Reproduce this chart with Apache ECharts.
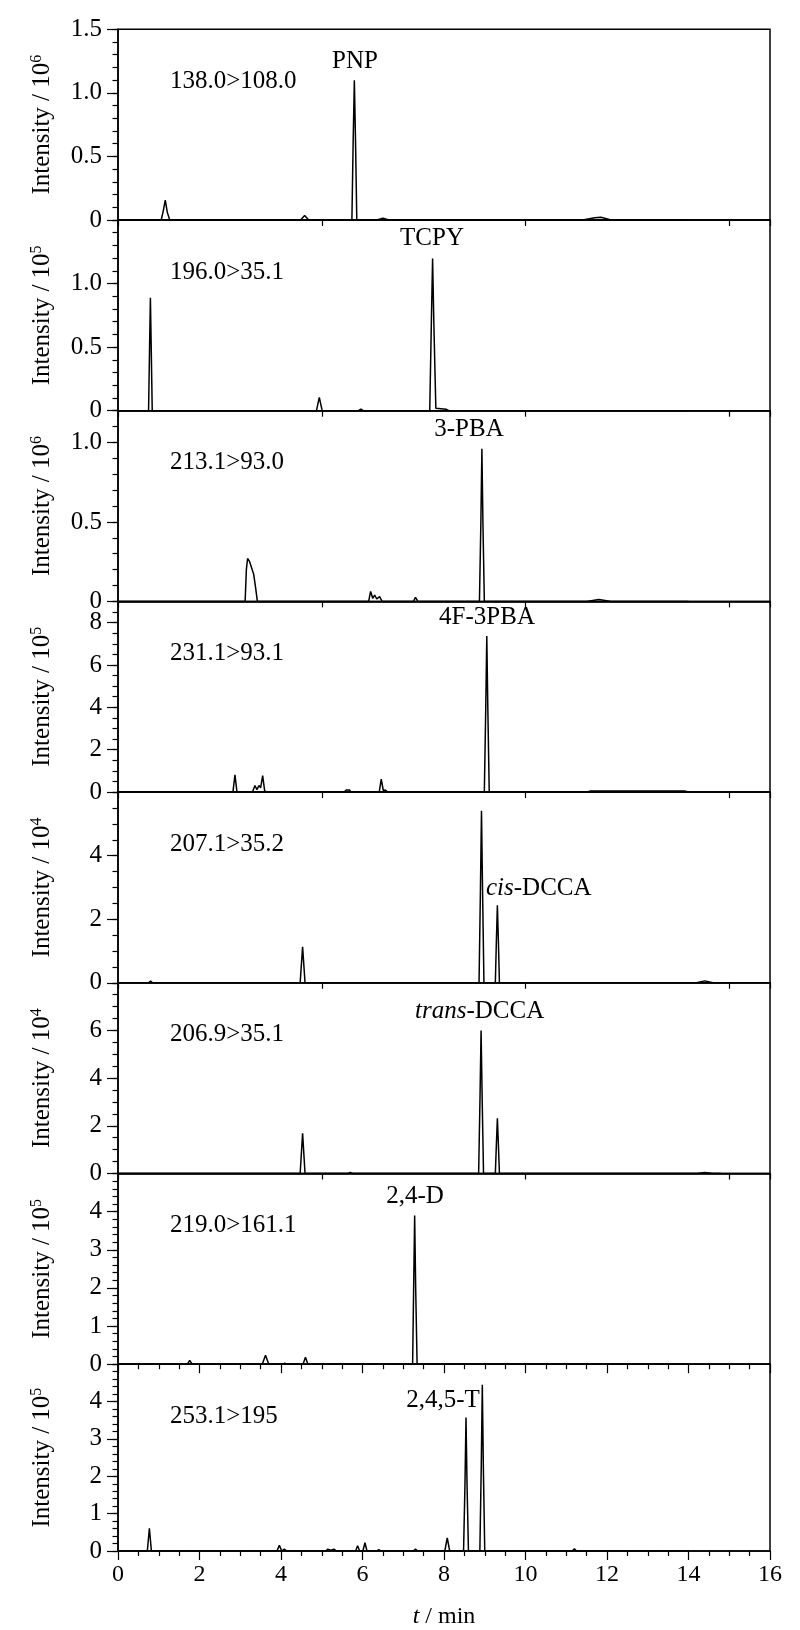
<!DOCTYPE html>
<html>
<head>
<meta charset="utf-8">
<script src="https://cdn.jsdelivr.net/npm/echarts@6/dist/echarts.min.js"></script>
<style>
  html, body { margin: 0; padding: 0; background: #fff; }
  #chart { width: 800px; height: 1630px; }
</style>
</head>
<body>
<div id="chart"></div>
<script>
  // [time (min), intensity]
  const pnp = [[0, 0], [1.06, 0], [1.11, 0.07], [1.16, 0.157], [1.21, 0.06], [1.27, 0],
    [4.48, 0], [4.58, 0.035], [4.68, 0],
    [5.74, 0], [5.77, 0.6], [5.80, 1.10], [5.83, 0.6], [5.86, 0],
    [6.35, 0], [6.5, 0.015], [6.65, 0],
    [11.4, 0], [11.7, 0.018], [11.85, 0.022], [12.1, 0], [14, 0]]
  const tcpy = [[0, 0], [0.75, 0], [0.775, 0.5], [0.795, 0.888], [0.815, 0.5], [0.84, 0],
    [4.87, 0], [4.94, 0.105], [5.01, 0],
    [5.9, 0], [5.96, 0.012], [6.02, 0],
    [7.65, 0], [7.69, 0.7], [7.72, 1.197], [7.75, 0.7], [7.8, 0.02], [8.05, 0.012], [8.12, 0], [14, 0]]
  const pba3 = [[0, 0], [3.12, 0], [3.15, 0.2], [3.18, 0.27], [3.23, 0.25], [3.28, 0.21], [3.33, 0.17], [3.38, 0.08], [3.42, 0],
    [6.15, 0], [6.2, 0.063], [6.25, 0.02], [6.3, 0.04], [6.35, 0.015], [6.42, 0.03], [6.48, 0],
    [7.25, 0], [7.3, 0.025], [7.36, 0],
    [8.87, 0], [8.905, 0.5], [8.93, 0.96], [8.955, 0.5], [8.99, 0],
    [11.5, 0], [11.8, 0.012], [12.1, 0], [14, 0]]
  const f4pba3 = [[0, 0], [2.82, 0], [2.87, 0.81], [2.92, 0],
    [3.3, 0], [3.36, 0.31], [3.41, 0.12], [3.46, 0.31], [3.5, 0.2], [3.55, 0.78], [3.6, 0.05], [3.66, 0],
    [5.55, 0], [5.6, 0.1], [5.64, 0.02], [5.68, 0.1], [5.72, 0],
    [6.41, 0], [6.46, 0.61], [6.51, 0.08], [6.56, 0.1], [6.62, 0],
    [8.99, 0], [9.025, 4], [9.05, 7.37], [9.075, 4], [9.11, 0],
    [11.5, 0], [11.6, 0.05], [13.9, 0.05], [14, 0]]
  const cisDcca = [[0, 0], [0.75, 0], [0.8, 0.05], [0.85, 0],
    [4.47, 0], [4.53, 1.13], [4.59, 0],
    [8.86, 0], [8.895, 3], [8.92, 5.41], [8.945, 3], [8.98, 0],
    [9.26, 0], [9.285, 1.3], [9.31, 2.44], [9.335, 1.3], [9.36, 0],
    [14.2, 0], [14.4, 0.06], [14.6, 0], [14.8, 0]]
  const transDcca = [[0, 0], [0.74, 0], [0.78, 0.06], [0.82, 0],
    [4.47, 0], [4.53, 1.69], [4.59, 0],
    [5.65, 0], [5.7, 0.05], [5.75, 0],
    [8.85, 0], [8.885, 3.3], [8.91, 6.0], [8.935, 3.3], [8.97, 0],
    [9.26, 0], [9.285, 1.2], [9.31, 2.32], [9.335, 1.2], [9.36, 0],
    [14.2, 0], [14.4, 0.04], [14.6, 0], [14.8, 0]]
  const d24 = [[0, 0], [1.7, 0], [1.76, 0.1], [1.82, 0],
    [3.54, 0], [3.62, 0.236], [3.7, 0],
    [4.04, 0], [4.09, 0.03], [4.14, 0],
    [4.54, 0], [4.6, 0.18], [4.66, 0],
    [7.23, 0], [7.255, 2], [7.28, 3.9], [7.305, 2], [7.34, 0], [14, 0]]
  const t245 = [[0, 0], [0.72, 0], [0.77, 0.61], [0.82, 0],
    [3.9, 0], [3.96, 0.15], [4.02, 0], [4.08, 0.05], [4.14, 0],
    [5.1, 0], [5.15, 0.05], [5.22, 0.02], [5.3, 0.05], [5.36, 0],
    [5.83, 0], [5.88, 0.14], [5.93, 0], [6.01, 0], [6.06, 0.22], [6.11, 0],
    [6.35, 0], [6.4, 0.04], [6.45, 0],
    [7.25, 0], [7.3, 0.05], [7.35, 0],
    [8.02, 0], [8.08, 0.35], [8.14, 0],
    [8.48, 0], [8.515, 1.8], [8.54, 3.57], [8.565, 1.8], [8.6, 0],
    [8.88, 0], [8.915, 2.3], [8.94, 4.45], [8.965, 2.3], [9.0, 0],
    [11.15, 0], [11.2, 0.06], [11.25, 0], [14, 0]]

  const traces = [pnp, tcpy, pba3, f4pba3, cisDcca, transDcca, d24, t245]
  const yMax = [1.5, 1.5, 1.2, 9, 6, 8, 5, 5]
  const yStep = [0.5, 0.5, 0.5, 2, 2, 2, 1, 1]
  const yMinorStep = [0.1, 0.1, 0.1, 0.5, 0.5, 0.5, 0.2, 0.2]
  const yExp = ['6', '5', '6', '5', '4', '4', '5', '5']
  const transitions = ['138.0>108.0', '196.0>35.1', '213.1>93.0', '231.1>93.1',
    '207.1>35.2', '206.9>35.1', '219.0>161.1', '253.1>195']

  const serif = '"Liberation Serif", "Times New Roman", serif'
  const top0 = 29.3
  const panelH = 190.7
  const black = '#000'
  const fs = 25

  let grids = []
  let xAxes = []
  let yAxes = []
  let series = []
  let texts = []

  for (let i = 0; i < traces.length; i++) {
    let last = i === traces.length - 1
    let fine = i >= 6
    grids.push({
      left: 118, right: 30, top: top0 + i * panelH, height: panelH,
      show: true, borderColor: black, borderWidth: 1.5
    })
    xAxes.push({
      gridIndex: i, type: 'value', min: 0, max: 16, interval: fine ? 2 : 5,
      axisLine: { show: true, onZero: false, lineStyle: { color: black, width: 1.5 } },
      axisTick: { show: true, length: fine ? 9 : 6, lineStyle: { color: black, width: 1.2 } },
      minorTick: { show: fine, splitNumber: 4, length: 5, lineStyle: { color: black, width: 1.2 } },
      axisLabel: { show: last, margin: 12, fontSize: 24, fontFamily: serif, color: black },
      splitLine: { show: false },
      name: last ? '{i|t} / min' : '',
      nameLocation: 'middle', nameGap: 54,
      nameTextStyle: {
        fontSize: 24, fontFamily: serif, color: black,
        rich: { i: { fontSize: 24, fontFamily: serif, fontStyle: 'italic', color: black } }
      }
    })
    let dec = yStep[i] < 1
    yAxes.push({
      gridIndex: i, type: 'value', position: 'left', min: 0, max: yMax[i], interval: yStep[i],
      axisLine: { show: true, onZero: false, lineStyle: { color: black, width: 1.5 } },
      axisTick: { show: true, length: 11, lineStyle: { color: black, width: 1.2 } },
      axisLabel: {
        margin: 16, fontSize: fs, fontFamily: serif, color: black,
        showMaxLabel: i === 0,
        formatter: v => (v === 0 ? '0' : (dec ? v.toFixed(1) : String(v)))
      },
      splitLine: { show: false },
      name: '{n|Intensity / 10}{s|' + yExp[i] + '}',
      nameLocation: 'middle', nameGap: 62, nameRotate: 90,
      nameTextStyle: {
        color: black,
        rich: {
          n: { fontSize: fs, fontFamily: serif, color: black, lineHeight: 27 },
          s: { fontSize: 16, fontFamily: serif, color: black, lineHeight: 16, verticalAlign: 'top' }
        }
      }
    })
    yAxes.push({
      gridIndex: i, type: 'value', position: 'left', min: 0, max: yMax[i], interval: yMinorStep[i],
      axisLine: { show: false },
      axisTick: { show: true, length: 5.5, lineStyle: { color: black, width: 1.2 } },
      axisLabel: { show: false },
      splitLine: { show: false }
    })
    series.push({
      type: 'line', xAxisIndex: i, yAxisIndex: 2 * i, data: traces[i],
      symbol: 'none', showSymbol: false, silent: true,
      lineStyle: { color: black, width: 1.5 }
    })
    texts.push({
      type: 'text', x: 170, y: top0 + i * panelH + 52,
      style: {
        text: transitions[i], fontSize: fs, fontFamily: serif, fill: black,
        align: 'left', verticalAlign: 'middle', textAlign: 'left', textVerticalAlign: 'middle'
      }
    })
  }

  // peak names: [text, x, y, align]
  const peakLabels = [
    ['PNP', 355, 61.5, 'center'],
    ['TCPY', 432, 238.5, 'center'],
    ['3-PBA', 469, 429, 'center'],
    ['4F-3PBA', 487, 617, 'center'],
    ['{i|cis}-DCCA', 486, 888, 'left'],
    ['{i|trans}-DCCA', 415, 1011, 'left'],
    ['2,4-D', 415, 1196, 'center'],
    ['2,4,5-T', 443, 1400, 'center']
  ]
  for (let p of peakLabels) {
    texts.push({
      type: 'text', x: p[1], y: p[2],
      style: {
        text: p[0], fontSize: fs, fontFamily: serif, fill: black,
        align: p[3], verticalAlign: 'middle', textAlign: p[3], textVerticalAlign: 'middle',
        rich: {
          i: { fontSize: fs, fontFamily: serif, fontStyle: 'italic', fill: black, color: black }
        }
      }
    })
  }

  let chart = echarts.init(document.getElementById('chart'))
  chart.setOption({
    animation: false,
    backgroundColor: '#fff',
    grid: grids,
    xAxis: xAxes,
    yAxis: yAxes,
    series: series,
    graphic: texts
  })
</script>
</body>
</html>
